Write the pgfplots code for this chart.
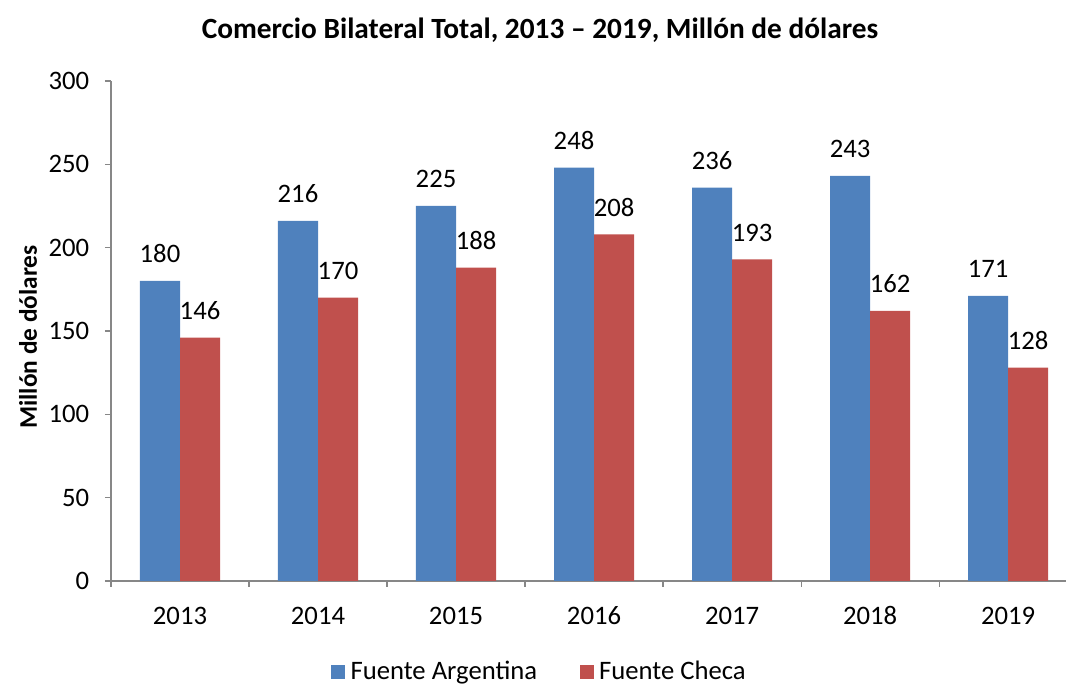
\documentclass[border=0pt]{standalone}
\usepackage{fontspec}
\setmainfont{Carlito}
\usepackage{pgfplots}
\pgfplotsset{compat=1.18}
\definecolor{cblue}{HTML}{4F81BD}
\definecolor{cred}{HTML}{C0504D}
\definecolor{axgray}{HTML}{878787}
\begin{document}
\fontsize{20}{24}\selectfont
\begin{tikzpicture}
\useasboundingbox (-83.25pt,-77.25pt) rectangle (717pt,435.75pt);
\begin{axis}[
  at={(0,0)}, anchor=south west,
  scale only axis, width=716.25pt, height=375pt,
  ybar=0pt, bar width=0.29,
  xmin=-0.5, xmax=6.42, ymin=0, ymax=300,
  ytick={0,50,...,300},
  xtick={0,...,6}, xticklabels={2013,2014,2015,2016,2017,2018,2019},
  major x tick style={draw=none},
  minor xtick={-0.5,0.5,...,5.5},
  axis x line*=bottom, axis y line*=left,
  axis line style={axgray, line width=0.8pt},
  every tick/.style={axgray, line width=0.8pt},
  tick align=outside, major tick length=4.5pt, minor tick length=4.5pt,
  /pgf/number format/assume math mode=true,
  xticklabel style={yshift=-7pt, text height=14pt, text depth=0pt},
  yticklabel style={xshift=-5pt},
  nodes near coords,
  nodes near coords style={anchor=base, inner sep=0pt, yshift=13.5pt, black},
  legend columns=2,
  legend style={draw=none, at={(axis description cs:0.449,-0.182)}, anchor=center,
    /tikz/every odd column/.append style={column sep=2pt},
    /tikz/every even column/.append style={column sep=30pt}},
  legend image code/.code={\fill[#1] (0pt,-0.25em) rectangle (10.5pt,-0.25em+10.5pt);},
]
\addplot[fill=cblue, draw=none] coordinates {(0,180) (1,216) (2,225) (3,248) (4,236) (5,243) (6,171)};
\addplot[fill=cred, draw=none] coordinates {(0,146) (1,170) (2,188) (3,208) (4,193) (5,162) (6,128)};
\legend{Fuente Argentina, Fuente Checa}
\end{axis}
\node[font=\fontsize{22}{26}\bfseries] at (321.75pt,413.25pt) {Comercio Bilateral Total, 2013 – 2019, Millón de dólares};
\node[font=\fontsize{19}{23}\bfseries, rotate=90] at (-62.25pt,183pt) {Millón de dólares};
\end{tikzpicture}
\end{document}
